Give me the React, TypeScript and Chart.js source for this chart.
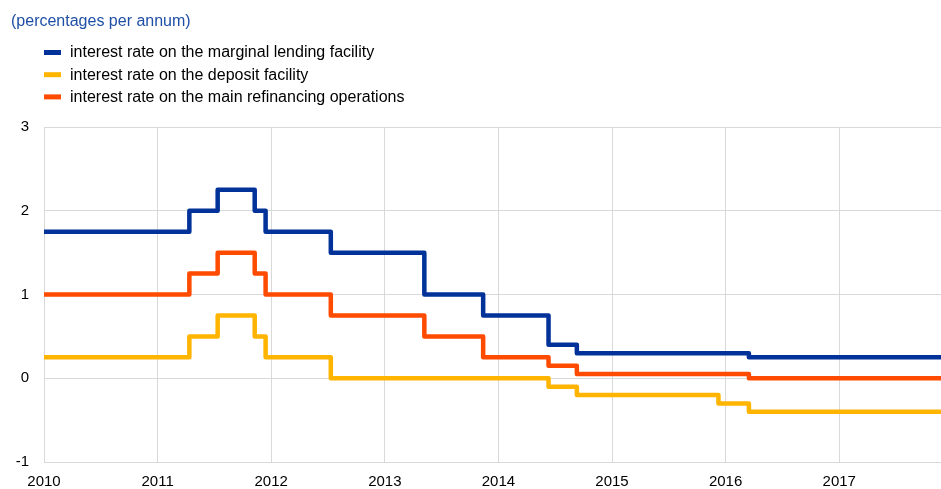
import React, { useEffect, useRef } from "react";
import { Chart, registerables } from "chart.js";

Chart.register(...registerables);

const titleText = "(percentages per annum)";
const seriesLabels = [
  "interest rate on the marginal lending facility",
  "interest rate on the deposit facility",
  "interest rate on the main refinancing operations",
];
const seriesColors = ["#003299", "#FFB400", "#FF4B00"];

const yearTicks = [2010, 2011, 2012, 2013, 2014, 2015, 2016, 2017];
const rateTicks = [-1, 0, 1, 2, 3];

// change dates (rate valid from that date)
const mlfDates = ["2010-01-01", "2011-04-13", "2011-07-13", "2011-11-09", "2011-12-14", "2012-07-11", "2013-05-08", "2013-11-13", "2014-06-11", "2014-09-10", "2016-03-16", "2017-11-24"];
const mlfRates = [1.75, 2.0, 2.25, 2.0, 1.75, 1.5, 1.0, 0.75, 0.4, 0.3, 0.25, 0.25];

const dfDates = ["2010-01-01", "2011-04-13", "2011-07-13", "2011-11-09", "2011-12-14", "2012-07-11", "2014-06-11", "2014-09-10", "2015-12-09", "2016-03-16", "2017-11-24"];
const dfRates = [0.25, 0.5, 0.75, 0.5, 0.25, 0.0, -0.1, -0.2, -0.3, -0.4, -0.4];

const mroDates = ["2010-01-01", "2011-04-13", "2011-07-13", "2011-11-09", "2011-12-14", "2012-07-11", "2013-05-08", "2013-11-13", "2014-06-11", "2014-09-10", "2016-03-16", "2017-11-24"];
const mroRates = [1.0, 1.25, 1.5, 1.25, 1.0, 0.75, 0.5, 0.25, 0.15, 0.05, 0.0, 0.0];

function toYear(d: string): number {
  const [y, m, day] = d.split("-").map(Number);
  const start = Date.UTC(y, 0, 1);
  const end = Date.UTC(y + 1, 0, 1);
  return y + (Date.UTC(y, m - 1, day) - start) / (end - start);
}

function pts(dates: string[], rates: number[]) {
  return dates.map((d, i) => ({ x: toYear(d), y: rates[i] }));
}

const FONT = "'Liberation Sans', Arial, sans-serif";

const headerPlugin = {
  id: "header",
  afterDraw(chart: any) {
    const ctx = chart.ctx;
    ctx.save();
    ctx.textBaseline = "middle";
    ctx.textAlign = "left";
    ctx.font = `16px ${FONT}`;
    ctx.fillStyle = "#1f4fa5";
    ctx.fillText(titleText, 11, 22);
    ctx.font = `16px ${FONT}`;
    seriesLabels.forEach((lab, i) => {
      const yc = 52.5 + i * 22.2;
      ctx.fillStyle = seriesColors[i];
      ctx.fillRect(44, yc - 2.5, 17, 5);
      ctx.fillStyle = "#000000";
      ctx.fillText(lab, 70, yc + 0.5);
    });
    ctx.restore();
  },
};

export default function App() {
  const ref = useRef<HTMLCanvasElement>(null);
  useEffect(() => {
    document.body.style.margin = "0";
    const c = new Chart(ref.current!, {
      type: "line",
      data: {
        datasets: [
          { label: seriesLabels[0], data: pts(mlfDates, mlfRates), borderColor: seriesColors[0], borderWidth: 4.5, stepped: "before", pointRadius: 0, fill: false },
          { label: seriesLabels[1], data: pts(dfDates, dfRates), borderColor: seriesColors[1], borderWidth: 4.5, stepped: "before", pointRadius: 0, fill: false },
          { label: seriesLabels[2], data: pts(mroDates, mroRates), borderColor: seriesColors[2], borderWidth: 4.5, stepped: "before", pointRadius: 0, fill: false },
        ],
      },
      options: {
        animation: false,
        responsive: false,
        layout: { padding: { top: 127, right: 0, left: 0, bottom: 0 } },
        plugins: { legend: { display: false }, title: { display: false }, tooltip: { enabled: false } },
        elements: { line: { borderJoinStyle: "round", borderCapStyle: "butt" } },
        scales: {
          x: {
            type: "linear",
            min: 2010,
            max: toYear("2017-11-24"),
            afterBuildTicks: (s: any) => { s.ticks = yearTicks.map((v) => ({ value: v })); },
            afterFit: (s: any) => { s.height = 27; },
            grid: { color: "#d9d9d9", drawTicks: false, lineWidth: 1 },
            border: { color: "#d9d9d9" },
            ticks: { font: { family: FONT, size: 15 }, color: "#000", padding: 11, maxRotation: 0, callback: (v: any) => String(v) },
          },
          y: {
            min: -1,
            max: 3,
            afterBuildTicks: (s: any) => { s.ticks = rateTicks.map((v) => ({ value: v })); },
            afterFit: (s: any) => { s.width = 44; },
            grid: { color: "#d9d9d9", drawTicks: false, lineWidth: 1 },
            border: { color: "#d9d9d9" },
            ticks: { font: { family: FONT, size: 15 }, color: "#000", padding: 15 },
          },
        },
      },
      plugins: [headerPlugin],
    });
    return () => c.destroy();
  }, []);
  return <canvas ref={ref} width={941} height={489} style={{ display: "block" }} />;
}
